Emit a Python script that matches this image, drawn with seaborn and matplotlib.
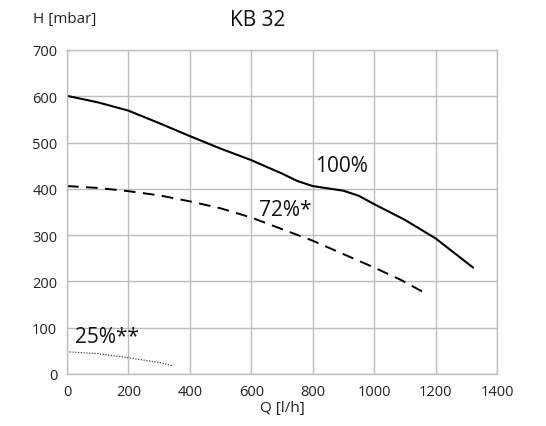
import matplotlib
matplotlib.use("Agg")
import matplotlib.pyplot as plt
import seaborn as sns
import pandas as pd

# Pump curves for KB 32: head H [mbar] over flow Q [l/h]
q_100 = [0, 100, 200, 300, 400, 500, 600, 700, 750, 800, 850, 900, 950, 1000, 1050, 1100, 1200, 1322]
h_100 = [601, 587, 569, 542, 514, 487, 462, 433, 417, 406, 401, 396, 385, 367, 350, 333, 293, 230]

q_72 = [0, 100, 200, 300, 400, 500, 600, 700, 800, 900, 1000, 1085, 1160]
h_72 = [406, 402, 395, 386, 373, 358, 338, 313, 288, 259, 230, 204, 177]

q_25 = [0, 100, 200, 300, 344]
h_25 = [48, 44, 35, 25, 18]

labels = ["100%", "72%*", "25%**"]
x_ticks = [0, 200, 400, 600, 800, 1000, 1200, 1400]
y_ticks = [0, 100, 200, 300, 400, 500, 600, 700]

sns.set_style("white")
plt.rcParams["font.family"] = ["Open Sans", "DejaVu Sans"]

fig = plt.figure(figsize=(5.46, 4.27), dpi=100)
ax = fig.add_axes([67 / 546, 1 - 375 / 427, (497 - 67) / 546, (375 - 51) / 427])

df100 = pd.DataFrame({"Q": q_100, "H": h_100})
df72 = pd.DataFrame({"Q": q_72, "H": h_72})
df25 = pd.DataFrame({"Q": q_25, "H": h_25})

sns.lineplot(data=df100, x="Q", y="H", ax=ax, color="black", linewidth=1.5, sort=False)
sns.lineplot(data=df72, x="Q", y="H", ax=ax, color="black", linewidth=1.4,
             sort=False).lines[-1].set_dashes([6, 3.8])
sns.lineplot(data=df25, x="Q", y="H", ax=ax, color="#444444", linewidth=0.9,
             sort=False).lines[-1].set_dashes([1, 1.2])

ax.set_xlim(0, 1400)
ax.set_ylim(0, 700)
ax.set_xticks(x_ticks)
ax.set_yticks(y_ticks)
ax.grid(True, color="#bdbdbd", linewidth=1.0)
for s in ax.spines.values():
    s.set_color("#bdbdbd")
    s.set_linewidth(1.0)
ax.tick_params(axis="both", colors="#bdbdbd", length=5, width=1.0,
               labelcolor="#222222", labelsize=10.5, pad=2)
ax.set_xlabel("Q [l/h]", fontsize=11, color="#222222", labelpad=1)
ax.set_ylabel("")

ax.text(894, 451, labels[0], fontsize=15, ha="center", va="center", color="#111111")
ax.text(709, 356, labels[1], fontsize=15, ha="center", va="center", color="#111111")
ax.text(130, 80, labels[2], fontsize=15, ha="center", va="center", color="#111111")

fig.text(33 / 546, 1 - 20 / 427, "H [mbar]", fontsize=11, ha="left", va="center", color="#222222")
fig.text(258 / 546, 1 - 20 / 427, "KB 32", fontsize=15, ha="center", va="center", color="#111111")

fig.savefig("out.png", dpi=100, facecolor="white")
